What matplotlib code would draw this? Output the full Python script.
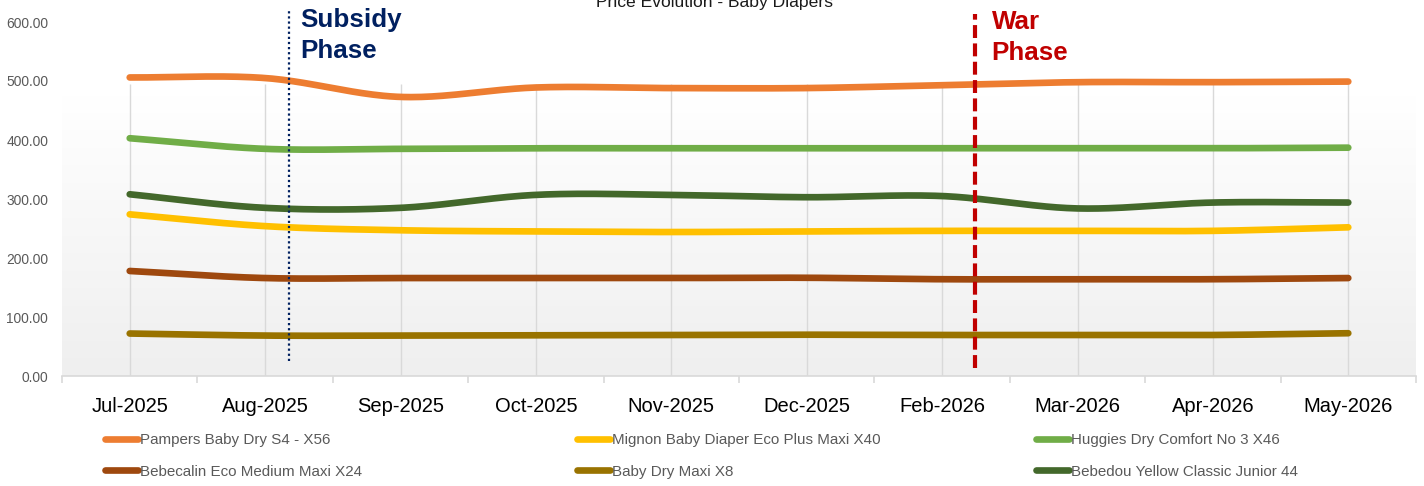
import numpy as np
import matplotlib
matplotlib.use("Agg")
import matplotlib.pyplot as plt
from matplotlib import font_manager
from matplotlib.colors import LinearSegmentedColormap

# ---------------- data ----------------
months = ["Jul-2025", "Aug-2025", "Sep-2025", "Oct-2025", "Nov-2025",
          "Dec-2025", "Feb-2026", "Mar-2026", "Apr-2026", "May-2026"]
pampers   = [506, 505, 473, 489, 488, 488, 493, 498, 498, 499]
mignon    = [274, 254, 247, 245, 244, 245, 246, 246, 246, 252]
huggies   = [403, 385, 385, 386, 386, 386, 386, 386, 386, 387]
bebecalin = [178, 166, 166, 166, 166, 166.5, 164, 164, 164, 166]
babydry   = [72, 68.5, 68.5, 69, 69.5, 70, 69.5, 69.5, 69.5, 72.5]
bebedou   = [308, 285, 285, 307, 307, 303, 305, 284, 294, 294]

series_names = ["Pampers Baby Dry S4 - X56", "Bebecalin Eco Medium Maxi X24",
                "Mignon Baby Diaper Eco Plus Maxi X40", "Baby Dry Maxi X8",
                "Huggies Dry Comfort No 3 X46", "Bebedou Yellow Classic Junior 44"]
series_values = [pampers, bebecalin, mignon, babydry, huggies, bebedou]
series_colors = ["#ED7D31", "#9E480E", "#FFC000", "#997300", "#70AD47", "#43682B"]

subsidy_pos = 1.18
war_pos = 6.24
y_ticks = [0, 100, 200, 300, 400, 500, 600]

# ---------------- fonts ----------------
names = {f.name for f in font_manager.fontManager.ttflist}
narrow_ok = "Liberation Sans Narrow" in names
narrow = "Liberation Sans Narrow" if narrow_ok else "Liberation Sans"
k = 1.0 if narrow_ok else 0.84   # shrink regular font to match narrow widths
bold_family = "Liberation Sans"


def smooth(vals, n=40):
    y = np.asarray(vals, float)
    m = np.empty_like(y)
    m[1:-1] = (y[2:] - y[:-2]) / 2.0
    m[0] = y[1] - y[0]
    m[-1] = y[-1] - y[-2]
    t = np.linspace(0, 1, n)
    h00 = 2 * t**3 - 3 * t**2 + 1
    h10 = t**3 - 2 * t**2 + t
    h01 = -2 * t**3 + 3 * t**2
    h11 = t**3 - t**2
    xs, ys = [], []
    for i in range(len(y) - 1):
        xs.append(i + t)
        ys.append(h00 * y[i] + h10 * m[i] + h01 * y[i + 1] + h11 * m[i + 1])
    return np.concatenate(xs), np.concatenate(ys)


W, H = 1424, 486
fig = plt.figure(figsize=(W / 100, H / 100), dpi=100)
ax = fig.add_axes([62 / W, 1 - 376 / H, 1354 / W, 376 / H])

# background gradient
cmap = LinearSegmentedColormap.from_list("bg", ["#efefef", "#ffffff"])
ax.imshow(np.linspace(0, 1, 256).reshape(-1, 1), extent=(-0.5, 9.5, 0, 475),
          origin="lower", aspect="auto", cmap=cmap, zorder=0)

# vertical grid lines at categories
ax.vlines(np.arange(len(months)), 0, 495, color="#d9d9d9", lw=1, zorder=1)

handles = []
for name, vals, col in zip(series_names, series_values, series_colors):
    xs, ys = smooth(vals)
    ln, = ax.plot(xs, ys, color=col, lw=4.8, solid_capstyle="round",
                  label=name, zorder=3)
    handles.append(ln)

# phase lines
ax.plot([subsidy_pos, subsidy_pos], [25, 619], color="#002060", lw=1.6,
        linestyle=(0, (1, 1.3)), zorder=4, clip_on=False)
ax.plot([war_pos, war_pos], [13.6, 613], color="#C00000", lw=3.0,
        linestyle=(0, (3.1, 1.3)), zorder=4, clip_on=False)

ax.text(1.263, 592, "Subsidy", color="#002060", fontsize=18.7,
        fontweight="bold", family=bold_family, va="baseline", ha="left", zorder=5)
ax.text(1.263, 538.5, "Phase", color="#002060", fontsize=18.7,
        fontweight="bold", family=bold_family, va="baseline", ha="left", zorder=5)
ax.text(6.366, 587.6, "War", color="#C00000", fontsize=18.7,
        fontweight="bold", family=bold_family, va="baseline", ha="left", zorder=5)
ax.text(6.366, 535.6, "Phase", color="#C00000", fontsize=18.7,
        fontweight="bold", family=bold_family, va="baseline", ha="left", zorder=5)

ax.set_xlim(-0.5, 9.5)
ax.set_ylim(0, 376 / 0.59)

for s in ["top", "right", "left"]:
    ax.spines[s].set_visible(False)
ax.spines["bottom"].set_color("#d9d9d9")
ax.spines["bottom"].set_linewidth(1.2)

ax.set_xticks(range(len(months)))
ax.set_xticklabels(months, family=narrow, fontsize=17.3 * k, color="black")
ax.set_xticks(np.arange(-0.5, 10, 1), minor=True)
ax.tick_params(axis="x", which="major", length=0, pad=15)
ax.tick_params(axis="x", which="minor", length=5, color="#d9d9d9", width=1.2)

ax.set_yticks(y_ticks)
ax.set_yticklabels([f"{v:.2f}" for v in y_ticks], family=narrow,
                   fontsize=11.8 * k, color="#595959")
ax.tick_params(axis="y", length=0, pad=10)

fig.text(715 / W, 1 - 7 / H, "Price Evolution - Baby Diapers", ha="center",
         va="baseline", fontsize=15 * k, family=narrow, color="#1a1a1a")

# legends (three columns)
col_x = [105, 577, 1036]
for ci, x0 in enumerate(col_x):
    hs = handles[2 * ci:2 * ci + 2]
    fig.legend(hs, [h.get_label() for h in hs], loc="center left",
               bbox_to_anchor=(x0 / W, 1 - 456 / H), frameon=False,
               borderpad=0, borderaxespad=0, handlelength=2.2,
               handletextpad=0.1, labelspacing=1.15,
               prop={"family": narrow, "size": 13.0 * k}, labelcolor="#595959")

fig.savefig("out.png", dpi=100)
